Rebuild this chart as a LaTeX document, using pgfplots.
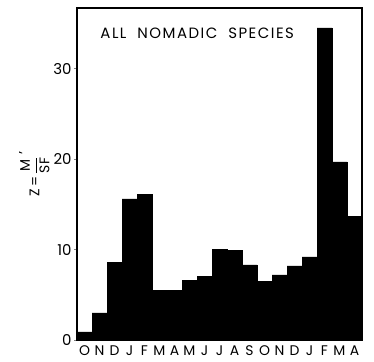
\documentclass[border=0pt]{standalone}
\usepackage{pgfplots}
\pgfplotsset{compat=1.18}
\usepackage{amsmath}
\usepackage{fontspec}
\setmainfont{Poppins}
\begin{document}
\begin{tikzpicture}
\useasboundingbox (0,0) rectangle (374bp,362bp);
\begin{axis}[
  at={(77bp,22bp)}, anchor=south west,
  width=285bp, height=332bp, scale only axis,
  xmin=-0.5, xmax=18.5, ymin=0, ymax=36.7,
  axis line style={line width=1.1pt},
  xtick={0,...,18},
  xticklabels={O,N,D,J,F,M,A,M,J,J,A,S,O,N,D,J,F,M,A},
  x tick style={draw=none},
  x tick label style={font=\fontsize{14}{14}\selectfont, yshift=1pt},
  ytick={0,10,20,30},
  ytick pos=left, tick align=outside,
  y tick style={line width=0.8pt},
  major tick length=3pt,
  y tick label style={font=\fontsize{15}{15}\selectfont, xshift=1pt},
  /pgf/number format/assume math mode=true,
  ylabel={Z\,=\,$\dfrac{\text{M}}{\text{SF}}$\,\raisebox{1.4ex}{'}},
  ylabel style={font=\fontsize{14}{14}\selectfont, at={(axis description cs:-0.15,0.5)}, anchor=center},
]
\addplot[ybar, bar width=1, fill=black, draw=black] coordinates {
(0,0.9) (1,3.0) (2,8.6) (3,15.6) (4,16.1) (5,5.5) (6,5.5) (7,6.6) (8,7.0) (9,10.0)
(10,9.9) (11,8.3) (12,6.5) (13,7.2) (14,8.2) (15,9.2) (16,34.5) (17,19.7) (18,13.7)};
\node[anchor=west, font=\fontsize{15}{15}\selectfont\addfontfeature{LetterSpace=10}] at (axis description cs:0.07,0.925) {ALL\ \ NOMADIC\ \ SPECIES};
\end{axis}
\end{tikzpicture}
\end{document}
